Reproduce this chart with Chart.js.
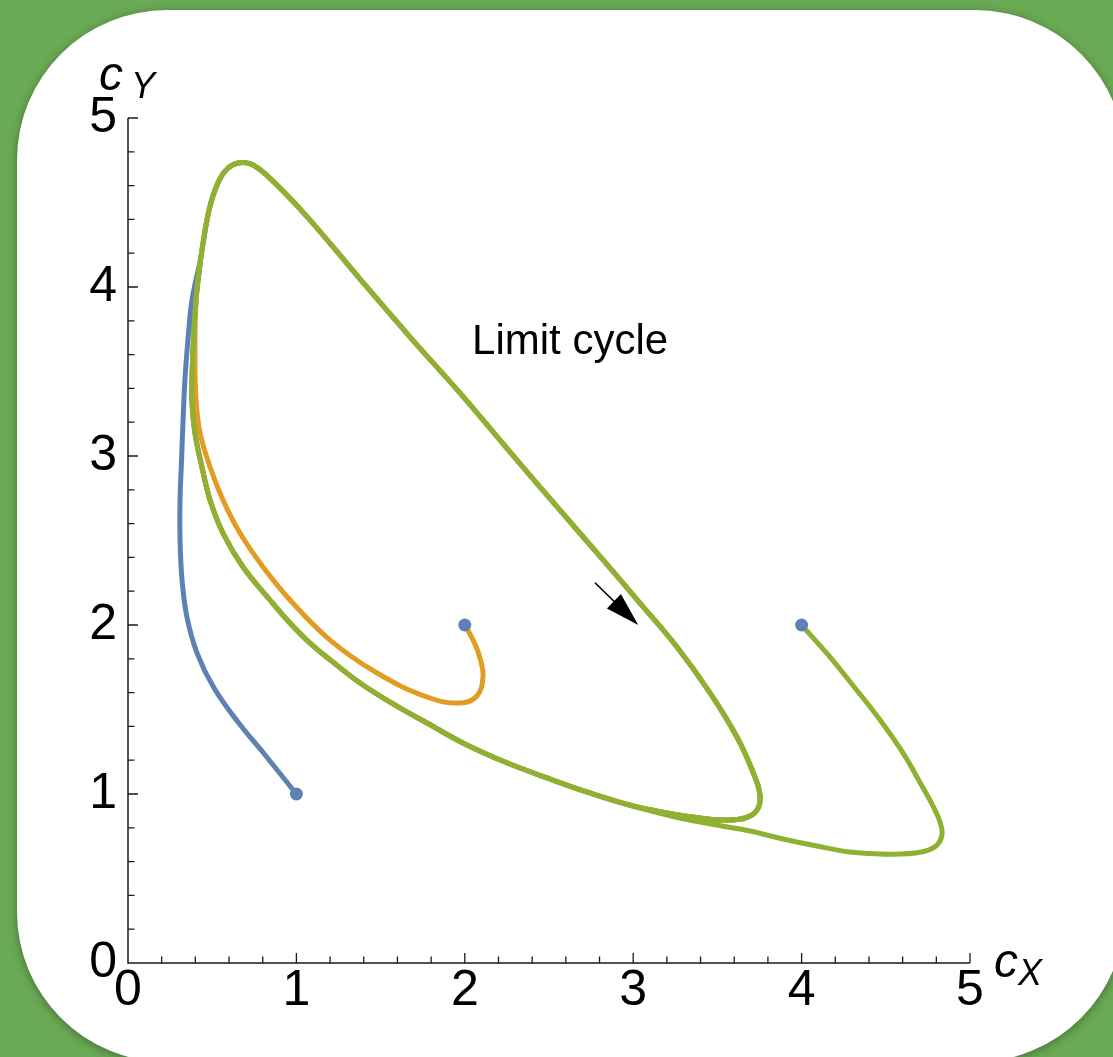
<!DOCTYPE html>
<html>
<head>
<meta charset="utf-8">
<script src="https://cdn.jsdelivr.net/npm/chart.js@4.4.1/dist/chart.umd.min.js"></script>
<style>
  html, body { margin: 0; padding: 0; }
  body { width: 1113px; height: 1057px; overflow: hidden; background: #6aaa54; position: relative; }
  #card {
    position: absolute; left: 17px; top: 10px; width: 1108px; height: 1052px;
    background: #fff; border-radius: 150px;
    box-shadow: 0 2px 10px rgba(0, 0, 0, 0.35);
  }
  #phase { position: absolute; left: 0; top: 0; }
</style>
</head>
<body>
<div id="card"></div>
<canvas id="phase" width="1113" height="1057"></canvas>
<script>
// start points of the three runs
const startX = [1, 2, 4];
const startY = [1, 2, 2];

// the limit cycle, clockwise from its highest point
const cycleX = [0.653, 0.742, 0.879, 1.081, 1.378, 1.675, 1.971, 2.268, 2.565, 2.821,
                3.040, 3.260, 3.456, 3.616, 3.711, 3.753, 3.735, 3.664, 3.545, 3.397,
                3.201, 2.999, 2.743, 2.488, 2.239, 2.001, 1.776, 1.574, 1.378, 1.217,
                1.081, 0.956, 0.843, 0.683, 0.564, 0.487, 0.439, 0.398, 0.380, 0.386,
                0.404, 0.433, 0.475, 0.517, 0.576];
const cycleY = [4.734, 4.722, 4.609, 4.396, 4.047, 3.704, 3.373, 3.024, 2.680, 2.385,
                2.130, 1.870, 1.598, 1.337, 1.130, 0.994, 0.905, 0.858, 0.846, 0.858,
                0.888, 0.929, 1.006, 1.095, 1.189, 1.296, 1.420, 1.533, 1.657, 1.781,
                1.893, 2.018, 2.148, 2.343, 2.544, 2.740, 2.935, 3.136, 3.331, 3.627,
                3.923, 4.178, 4.426, 4.574, 4.686];

// transients before each run settles onto the cycle
const blueX = [1.0, 0.819, 0.653, 0.511, 0.410, 0.350, 0.321, 0.309, 0.309, 0.318,
               0.327, 0.338, 0.356, 0.380];
const blueY = [1.0, 1.225, 1.426, 1.627, 1.834, 2.047, 2.266, 2.503, 2.740, 2.976,
               3.213, 3.450, 3.686, 3.923];
const orangeX = [2.0, 2.049, 2.090, 2.108, 2.072, 1.971, 1.776, 1.479, 1.200, 0.962,
                 0.802, 0.665, 0.564, 0.487, 0.428, 0.404, 0.398];
const orangeY = [2.0, 1.911, 1.805, 1.692, 1.580, 1.538, 1.574, 1.716, 1.911, 2.148,
                 2.343, 2.544, 2.740, 2.935, 3.136, 3.331, 3.568];
const greenX = [4.0, 4.163, 4.317, 4.466, 4.602, 4.715, 4.780, 4.822, 4.834, 4.810,
                4.757, 4.673, 4.584, 4.466, 4.287, 4.091, 3.890, 3.694, 3.545, 3.397,
                3.201];
const greenY = [2.0, 1.817, 1.627, 1.438, 1.243, 1.047, 0.929, 0.834, 0.763, 0.704,
                0.669, 0.651, 0.645, 0.645, 0.657, 0.692, 0.734, 0.781, 0.808, 0.834,
                0.876];

// index on the cycle where each transient joins it
const blueJoin = 41, orangeJoin = 40, greenJoin = 21;

const tickValues = [0, 1, 2, 3, 4, 5];

const arrowFrom = [2.773, 2.25];
const arrowTo = [3.03, 2.0];
const cycleLabel = 'Limit cycle';
const cycleLabelAt = [2.625, 3.675];

const BLUE = '#5e81b5', ORANGE = '#e19c24', GREEN = '#8fb131';

function pts(xs, ys) {
  return xs.map((v, i) => ({ x: v, y: ys[i] }));
}

// transient followed by one trip round the cycle starting at index k
function run(xs, ys, k) {
  const loop = pts(cycleX, cycleY);
  const around = loop.slice(k).concat(loop.slice(0, k + 1));
  return pts(xs, ys).concat(around);
}

const axesPlugin = {
  id: 'axes',
  beforeDatasetsDraw(chart) {
    const { ctx, chartArea: a, scales: { x, y } } = chart;
    ctx.save();
    ctx.strokeStyle = '#1a1a1a';
    ctx.lineWidth = 1.5;
    ctx.beginPath();
    ctx.moveTo(a.left, y.getPixelForValue(5));
    ctx.lineTo(a.left, a.bottom);
    ctx.lineTo(x.getPixelForValue(5), a.bottom);
    ctx.stroke();

    ctx.lineWidth = 1.3;
    ctx.beginPath();
    for (let i = 1; i <= 25; i++) {
      const v = i / 5;
      const len = i % 5 === 0 ? 10 : 6.5;
      const px = x.getPixelForValue(v);
      ctx.moveTo(px, a.bottom);
      ctx.lineTo(px, a.bottom - len);
      const py = y.getPixelForValue(v);
      ctx.moveTo(a.left, py);
      ctx.lineTo(a.left + len, py);
    }
    ctx.stroke();

    // axis names
    ctx.fillStyle = '#000';
    ctx.textBaseline = 'alphabetic';
    ctx.textAlign = 'left';
    ctx.font = 'italic 48px "Liberation Sans", Arial, sans-serif';
    ctx.fillText('c', a.left - 29, a.top - 28);
    ctx.fillText('c', a.right + 24, a.bottom + 14);
    ctx.font = 'italic 36px "Liberation Sans", Arial, sans-serif';
    ctx.fillText('Y', a.left + 3, a.top - 20);
    ctx.fillText('X', a.right + 48, a.bottom + 22);
    ctx.restore();
  },
  afterDatasetsDraw(chart) {
    const { ctx, scales: { x, y } } = chart;
    ctx.save();
    // direction arrow along the cycle
    const x0 = x.getPixelForValue(arrowFrom[0]), y0 = y.getPixelForValue(arrowFrom[1]);
    const x1 = x.getPixelForValue(arrowTo[0]), y1 = y.getPixelForValue(arrowTo[1]);
    const d = Math.hypot(x1 - x0, y1 - y0);
    const ux = (x1 - x0) / d, uy = (y1 - y0) / d;
    const head = 34, half = 10;
    const bx = x1 - ux * head, by = y1 - uy * head;
    ctx.strokeStyle = '#000';
    ctx.lineWidth = 1.6;
    ctx.beginPath();
    ctx.moveTo(x0, y0);
    ctx.lineTo(bx + ux * 4, by + uy * 4);
    ctx.stroke();
    ctx.fillStyle = '#000';
    ctx.beginPath();
    ctx.moveTo(x1, y1);
    ctx.lineTo(bx - uy * half, by + ux * half);
    ctx.lineTo(bx + uy * half, by - ux * half);
    ctx.closePath();
    ctx.fill();

    ctx.font = '42px "Liberation Sans", Arial, sans-serif';
    ctx.textAlign = 'center';
    ctx.textBaseline = 'middle';
    ctx.fillText(cycleLabel, x.getPixelForValue(cycleLabelAt[0]), y.getPixelForValue(cycleLabelAt[1]));
    ctx.restore();
  }
};

const lineStyle = { showLine: true, pointRadius: 0, borderWidth: 5, tension: 0.4, fill: false,
                    borderJoinStyle: 'round', borderCapStyle: 'round' };
const tickFont = { family: '"Liberation Sans", Arial, sans-serif', size: 50, lineHeight: 1 };

new Chart(document.getElementById('phase'), {
  type: 'scatter',
  data: {
    datasets: [
      { data: pts(startX, startY), pointRadius: 6.5, pointBackgroundColor: BLUE,
        pointBorderWidth: 0, showLine: false, order: 0 },
      Object.assign({ data: run(greenX, greenY, greenJoin), borderColor: GREEN, order: 1 }, lineStyle),
      Object.assign({ data: run(orangeX, orangeY, orangeJoin), borderColor: ORANGE, order: 2 }, lineStyle),
      Object.assign({ data: run(blueX, blueY, blueJoin), borderColor: BLUE, order: 3 }, lineStyle)
    ]
  },
  options: {
    responsive: false,
    animation: false,
    events: [],
    layout: { padding: { left: 18, top: 118, right: 143, bottom: 34 } },
    plugins: { legend: { display: false }, tooltip: { enabled: false } },
    scales: {
      x: {
        type: 'linear', min: 0, max: 5,
        grid: { display: false, drawTicks: false }, border: { display: false },
        afterBuildTicks: s => { s.ticks = tickValues.map(v => ({ value: v })); },
        ticks: { color: '#000', font: tickFont, padding: 3, maxRotation: 0, autoSkip: false },
        afterFit: s => { s.height = 60; }
      },
      y: {
        type: 'linear', min: 0, max: 5,
        grid: { display: false, drawTicks: false }, border: { display: false },
        afterBuildTicks: s => { s.ticks = tickValues.map(v => ({ value: v })); },
        ticks: { color: '#000', font: tickFont, padding: 11, autoSkip: false },
        afterFit: s => { s.width = 110; }
      }
    }
  },
  plugins: [axesPlugin]
});
</script>
</body>
</html>
